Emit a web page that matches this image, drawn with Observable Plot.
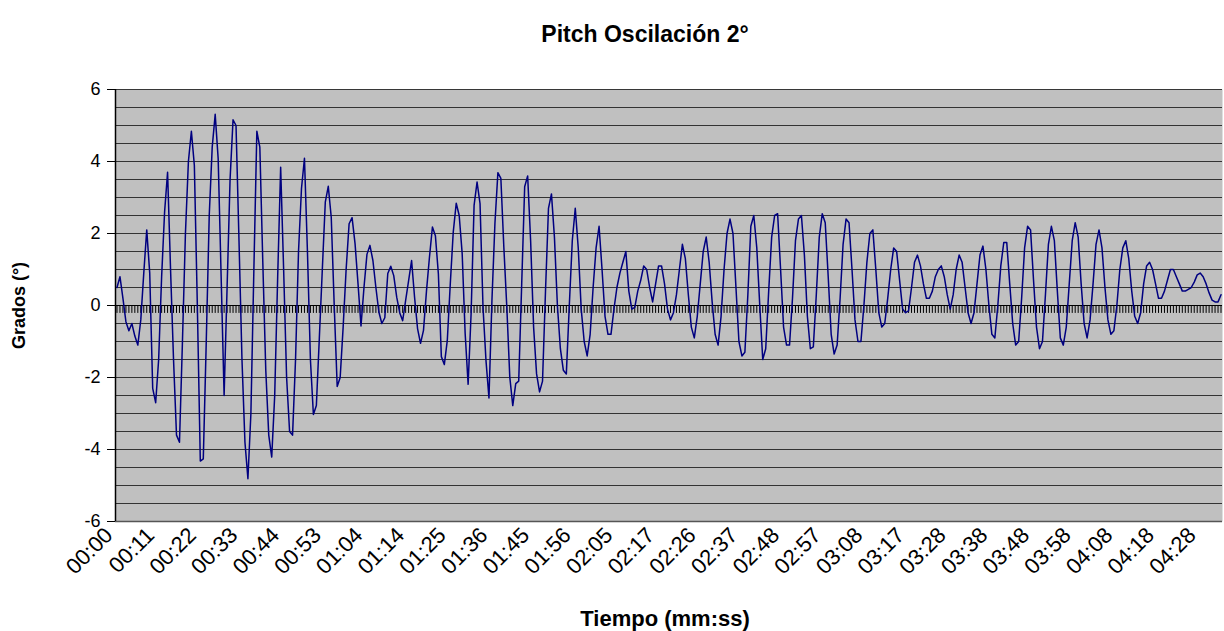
<!DOCTYPE html>
<html><head><meta charset="utf-8">
<script src="https://cdn.jsdelivr.net/npm/d3@7"></script>
<script src="https://cdn.jsdelivr.net/npm/@observablehq/plot@0.6"></script>
<style>body{margin:0;background:#fff;} svg{display:block}</style>
</head><body><div id="chart"></div>
<script>
// Pitch (degrees), one value per sample
const pitch = [
0.5, 0.8, 0.2, -0.45, -0.7, -0.5, -0.85, -1.1, -0.4, 0.9,
2.1, 0.9, -2.3, -2.7, -1.5, 0.8, 2.6, 3.7, 1.0, -1.5,
-3.6, -3.8, -1.0, 2.0, 4.0, 4.84, 3.89, 0.0, -4.32, -4.26,
-1.0, 2.5, 4.4, 5.31, 4.08, 0.8, -2.5, 0.5, 3.5, 5.16,
5.0, 1.8, -1.5, -3.8, -4.81, -3.0, 1.0, 4.84, 4.4, 1.2,
-1.8, -3.6, -4.21, -2.5, 0.8, 3.84, 1.0, -2.0, -3.5, -3.6,
-1.5, 1.5, 3.25, 4.09, 1.5, -1.5, -3.03, -2.78, -0.9, 1.0,
2.87, 3.31, 2.45, 0.0, -2.25, -2.0, -0.6, 1.0, 2.27, 2.44,
1.72, 0.6, -0.57, 0.5, 1.42, 1.67, 1.25, 0.5, -0.18, -0.5,
-0.34, 0.89, 1.09, 0.83, 0.23, -0.2, -0.42, 0.14, 0.69, 1.25,
0.23, -0.64, -1.05, -0.69, 0.4, 1.34, 2.18, 1.94, 0.88, -1.42,
-1.64, -0.97, 0.6, 2.04, 2.84, 2.5, 1.44, -0.78, -2.19, -0.22,
2.78, 3.43, 2.83, -0.05, -1.53, -2.57, 0.14, 2.27, 3.69, 3.53,
1.62, -0.05, -1.99, -2.78, -2.17,
-2.1, 0.6, 3.3, 3.6, 1.8,
-0.6, -1.9, -2.4, -2.1, 0.4, 2.7, 3.1, 1.9, 0.0, -1.2,
-1.8, -1.9, 0.0, 1.8, 2.7, 1.6, -0.1, -1.0, -1.4, -0.8,
0.5, 1.6, 2.2, 1.0, -0.3, -0.8, -0.8, -0.1, 0.5, 0.9,
1.2, 1.5, 0.4, -0.1, -0.05, 0.4, 0.7, 1.1, 1.0, 0.5,
0.1, 0.6, 1.1, 1.1, 0.6, -0.1, -0.4, -0.2, 0.3, 1.0,
1.7, 1.3, 0.3, -0.6, -0.9, -0.3, 0.6, 1.5, 1.9, 1.2,
0.1, -0.8, -1.1, -0.3, 1.0, 2.0, 2.4, 2.0, 0.5, -1.0,
-1.4, -1.3, 0.3, 2.2, 2.5, 1.6, 0.0, -1.5, -1.2, 0.4,
1.9, 2.5, 2.55, 1.0, -0.6, -1.1, -1.1, 0.2, 1.8, 2.4,
2.5, 1.4, -0.3, -1.2, -1.15, 0.3, 1.9, 2.55, 2.3, 0.8,
-0.8, -1.35, -1.1, 0.2, 1.7, 2.4, 2.3, 1.0, -0.4, -1.0,
-1.0, 0.0, 1.2, 2.0, 2.1, 1.0, -0.2, -0.6, -0.5, 0.2,
1.0, 1.6, 1.5, 0.7, -0.1, -0.2, -0.15, 0.5, 1.2, 1.4,
1.1, 0.6, 0.2, 0.2, 0.4, 0.8, 1.0, 1.1, 0.8, 0.3,
-0.1, 0.3, 1.0, 1.4, 1.2, 0.5, -0.2, -0.5, -0.2, 0.6,
1.4, 1.65, 1.0, 0.0, -0.8, -0.9, 0.0, 1.1, 1.75, 1.75,
0.6, -0.5, -1.1, -1.0, 0.2, 1.6, 2.2, 2.1, 0.7, -0.6,
-1.2, -1.0, 0.3, 1.7, 2.2, 1.8, 0.4, -0.9, -1.1, -0.6,
0.6, 1.8, 2.3, 1.9, 0.6, -0.5, -0.9, -0.4, 0.6, 1.7,
2.1, 1.6, 0.5, -0.4, -0.8, -0.7, 0.0, 1.0, 1.6, 1.8,
1.3, 0.4, -0.3, -0.5, -0.2, 0.6, 1.1, 1.2, 1.0, 0.6,
0.2, 0.2, 0.4, 0.7, 1.0, 1.0, 0.8, 0.6, 0.4, 0.4,
0.45, 0.5, 0.65, 0.85, 0.9, 0.8, 0.6, 0.35, 0.15, 0.1,
0.1, 0.3
];

// time labels shown on the category axis (every 14th sample)
const timeLabels = ["00:00","00:11","00:22","00:33","00:44","00:53","01:04","01:14","01:25","01:36","01:45","01:56","02:05","02:17","02:26","02:37","02:48","02:57","03:08","03:17","03:28","03:38","03:48","03:58","04:08","04:18","04:28"];
const labelEvery = 14;
const yTicks = [-6, -4, -2, 0, 2, 4, 6];

const titleText = "Pitch Oscilación 2°";
const xTitle = "Tiempo (mm:ss)";
const yTitle = "Grados (°)";

const idx = pitch.map((_, i) => i);
const labelIdx = timeLabels.map((_, j) => j * labelEvery);
const grid = d3.range(-6, 6.001, 0.5);
const font = "'Liberation Sans', Arial, sans-serif";

const chart = Plot.plot({
  width: 1224,
  height: 631,
  marginLeft: 115,
  marginRight: 2,
  marginTop: 89,
  marginBottom: 110,
  style: {fontFamily: font, background: "#fff", color: "#000"},
  x: {domain: [-0.5, pitch.length - 0.5], axis: null},
  y: {domain: [-6, 6], axis: null},
  marks: [
    Plot.frame({fill: "#C0C0C0", stroke: null}),
    Plot.ruleY(grid, {stroke: "#1a1a1a", strokeWidth: 1, strokeOpacity: 0.85}),
    Plot.ruleX(idx, {x: d => d, y1: 0, y2: -0.22, stroke: "#000", strokeWidth: 1}),
    Plot.ruleY([0], {stroke: "#000", strokeWidth: 1}),
    Plot.ruleY([-6], {stroke: "#555", strokeWidth: 1.5}),
    Plot.ruleX([-0.5], {stroke: "#000", strokeWidth: 1.5}),
    Plot.lineY(pitch, {x: (d, i) => i, y: d => d, stroke: "#000080", strokeWidth: 1.5}),
    Plot.axisY(yTicks, {tickSize: 8, tickPadding: 7, fontSize: 18, label: null, stroke: "#000", tickFormat: d => String(d)}),
    Plot.text(labelIdx, {x: d => d, frameAnchor: "bottom", text: (d, j) => timeLabels[j], rotate: -45, textAnchor: "end", dx: -3, dy: 15, fontSize: 22, fill: "#000"}),
    Plot.text([titleText], {frameAnchor: "top", lineAnchor: "middle", dx: -24, dy: -55, fontSize: 23, fontWeight: "bold", fill: "#000"}),
    Plot.text([xTitle], {frameAnchor: "bottom", lineAnchor: "middle", dx: -4, dy: 97, fontSize: 22, fontWeight: "bold", fill: "#000"}),
    Plot.text([yTitle], {frameAnchor: "left", textAnchor: "middle", lineAnchor: "middle", dx: -96, rotate: -90, fontSize: 18, fontWeight: "bold", fill: "#000"})
  ]
});
document.getElementById("chart").appendChild(chart);
</script>
</body></html>
